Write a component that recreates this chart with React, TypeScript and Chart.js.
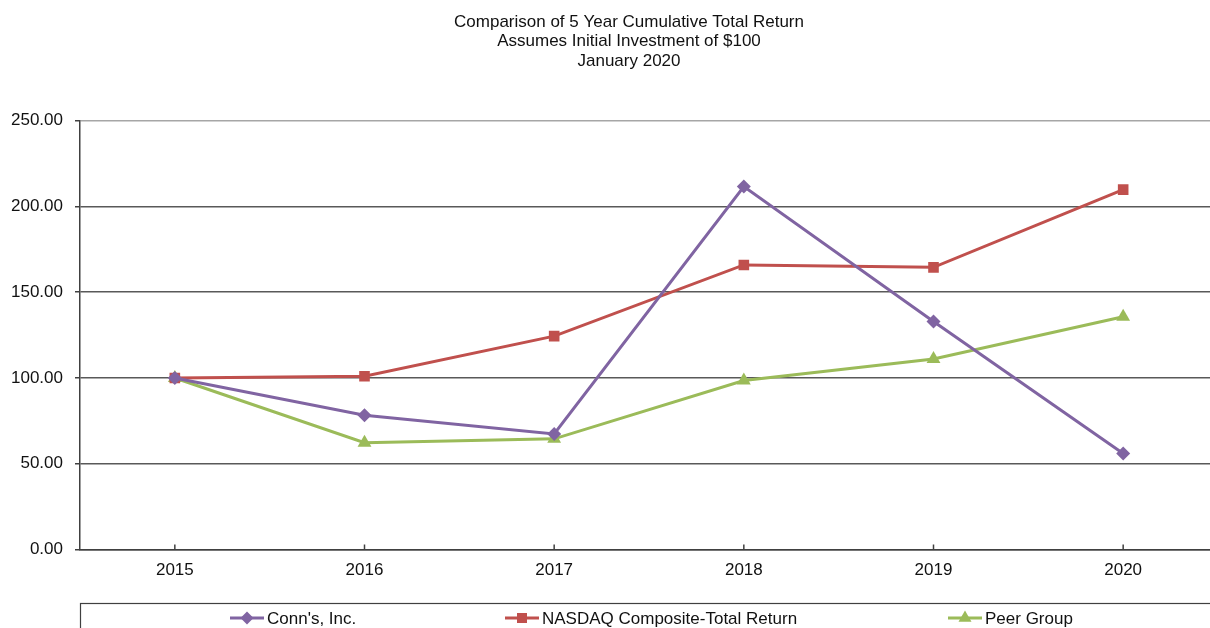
import React, { useEffect, useRef } from 'react';
import { Chart, registerables } from 'chart.js';

Chart.register(...registerables);

const years = ['2015', '2016', '2017', '2018', '2019', '2020'];
const connsValues = [100, 78.3, 67.4, 211.6, 132.9, 56.0];
const nasdaqValues = [100, 101.0, 124.4, 165.9, 164.5, 209.8];
const peerValues = [100, 62.3, 64.5, 98.5, 111.1, 135.7];
const yTicks = [0, 50, 100, 150, 200, 250];
const seriesLabels = ["Conn's, Inc.", 'NASDAQ Composite-Total Return', 'Peer Group'];
const titleLines = [
  'Comparison of 5 Year Cumulative Total Return',
  'Assumes Initial Investment of $100',
  'January 2020',
];

const FONT = "'Liberation Sans', Arial, sans-serif";
const PURPLE = '#8064A2';
const RED = '#C0504D';
const GREEN = '#9BBB59';
const AXIS = '#404040';

function drawMarker(ctx: CanvasRenderingContext2D, style: string, x: number, y: number, color: string) {
  ctx.save();
  ctx.fillStyle = color;
  ctx.beginPath();
  if (style === 'rectRot') {
    const r = 6.5;
    ctx.moveTo(x, y - r);
    ctx.lineTo(x + r, y);
    ctx.lineTo(x, y + r);
    ctx.lineTo(x - r, y);
    ctx.closePath();
  } else if (style === 'rect') {
    const s = 5;
    ctx.rect(x - s, y - s, 2 * s, 2 * s);
  } else {
    const r = 7.5;
    ctx.moveTo(x, y - r);
    ctx.lineTo(x + r * 0.866, y + r * 0.5);
    ctx.lineTo(x - r * 0.866, y + r * 0.5);
    ctx.closePath();
  }
  ctx.fill();
  ctx.restore();
}

const decorPlugin = {
  id: 'decor',
  afterDraw(chart: any) {
    const ctx: CanvasRenderingContext2D = chart.ctx;
    const xs = chart.scales.x;
    const area = chart.chartArea;
    ctx.save();
    // inward tick marks on the category axis
    ctx.strokeStyle = AXIS;
    ctx.lineWidth = 1.5;
    xs.ticks.forEach((_: any, i: number) => {
      const px = xs.getPixelForTick(i);
      ctx.beginPath();
      ctx.moveTo(px, area.bottom);
      ctx.lineTo(px, area.bottom - 5);
      ctx.stroke();
    });
    // title
    ctx.fillStyle = '#111';
    ctx.font = `17px ${FONT}`;
    ctx.textAlign = 'center';
    ctx.textBaseline = 'alphabetic';
    titleLines.forEach((t, i) => ctx.fillText(t, 629, 26.5 + i * 19.7));
    // legend box
    ctx.strokeStyle = AXIS;
    ctx.lineWidth = 1.2;
    ctx.strokeRect(80.5, 603.5, chart.width + 20, 100);
    // legend items
    const starts = [230, 505, 948];
    const y = 618;
    chart.data.datasets.forEach((ds: any, i: number) => {
      const x0 = starts[i];
      ctx.strokeStyle = ds.borderColor;
      ctx.lineWidth = 3;
      ctx.beginPath();
      ctx.moveTo(x0, y);
      ctx.lineTo(x0 + 34, y);
      ctx.stroke();
      drawMarker(ctx, ds.pointStyle, x0 + 17, y, ds.borderColor);
      ctx.fillStyle = '#111';
      ctx.textAlign = 'left';
      ctx.textBaseline = 'alphabetic';
      ctx.fillText(ds.label, x0 + 37, y + 6);
    });
    ctx.restore();
  },
};

export default function App() {
  const canvasRef = useRef<HTMLCanvasElement | null>(null);

  useEffect(() => {
    if (!canvasRef.current) return;
    const chart = new Chart(canvasRef.current, {
      type: 'line',
      data: {
        labels: years,
        datasets: [
          {
            label: seriesLabels[0],
            data: connsValues,
            borderColor: PURPLE,
            backgroundColor: PURPLE,
            borderWidth: 3,
            pointStyle: 'rectRot',
            pointRadius: 7,
            pointBorderWidth: 0,
            tension: 0,
          },
          {
            label: seriesLabels[1],
            data: nasdaqValues,
            borderColor: RED,
            backgroundColor: RED,
            borderWidth: 3,
            pointStyle: 'rect',
            pointRadius: 7.5,
            pointBorderWidth: 0,
            tension: 0,
          },
          {
            label: seriesLabels[2],
            data: peerValues,
            borderColor: GREEN,
            backgroundColor: GREEN,
            borderWidth: 3,
            pointStyle: 'triangle',
            pointRadius: 8,
            pointBorderWidth: 0,
            tension: 0,
          },
        ] as any,
      },
      options: {
        animation: false,
        responsive: false,
        devicePixelRatio: 1,
        layout: { padding: { top: 120.7, left: 0, right: 0, bottom: 0 } },
        plugins: {
          legend: { display: false },
          title: { display: false },
          tooltip: { enabled: false },
        },
        scales: {
          x: {
            type: 'category',
            offset: true,
            grid: { display: true, drawOnChartArea: false, drawTicks: false, offset: false },
            border: { color: AXIS, width: 1.5 },
            ticks: {
              color: '#111',
              font: { family: FONT, size: 17 },
              padding: 11,
              maxRotation: 0,
              autoSkip: false,
            },
            afterFit: (s: any) => {
              s.height = 78.5;
            },
          },
          y: {
            min: 0,
            max: 250,
            afterBuildTicks: (s: any) => {
              s.ticks = yTicks.map((v) => ({ value: v }));
            },
            grid: {
              color: (c: any) => (c.tick && c.tick.value === 250 ? '#a6a6a6' : '#595959'),
              lineWidth: 1.5,
              drawTicks: true,
              tickLength: 5,
              tickColor: AXIS,
            },
            border: { color: AXIS, width: 1.5 },
            ticks: {
              color: '#111',
              font: { family: FONT, size: 17 },
              padding: 12,
              callback: (v: any) => Number(v).toFixed(2),
            },
            afterFit: (s: any) => {
              s.width = 80;
            },
          },
        },
      },
      plugins: [decorPlugin],
    });
    return () => chart.destroy();
  }, []);

  return (
    <div
      style={{
        position: 'fixed',
        left: 0,
        top: 0,
        width: 1210,
        height: 628,
        overflow: 'hidden',
        background: '#fff',
      }}
    >
      <canvas ref={canvasRef} width={1226} height={628} style={{ display: 'block' }} />
    </div>
  );
}
